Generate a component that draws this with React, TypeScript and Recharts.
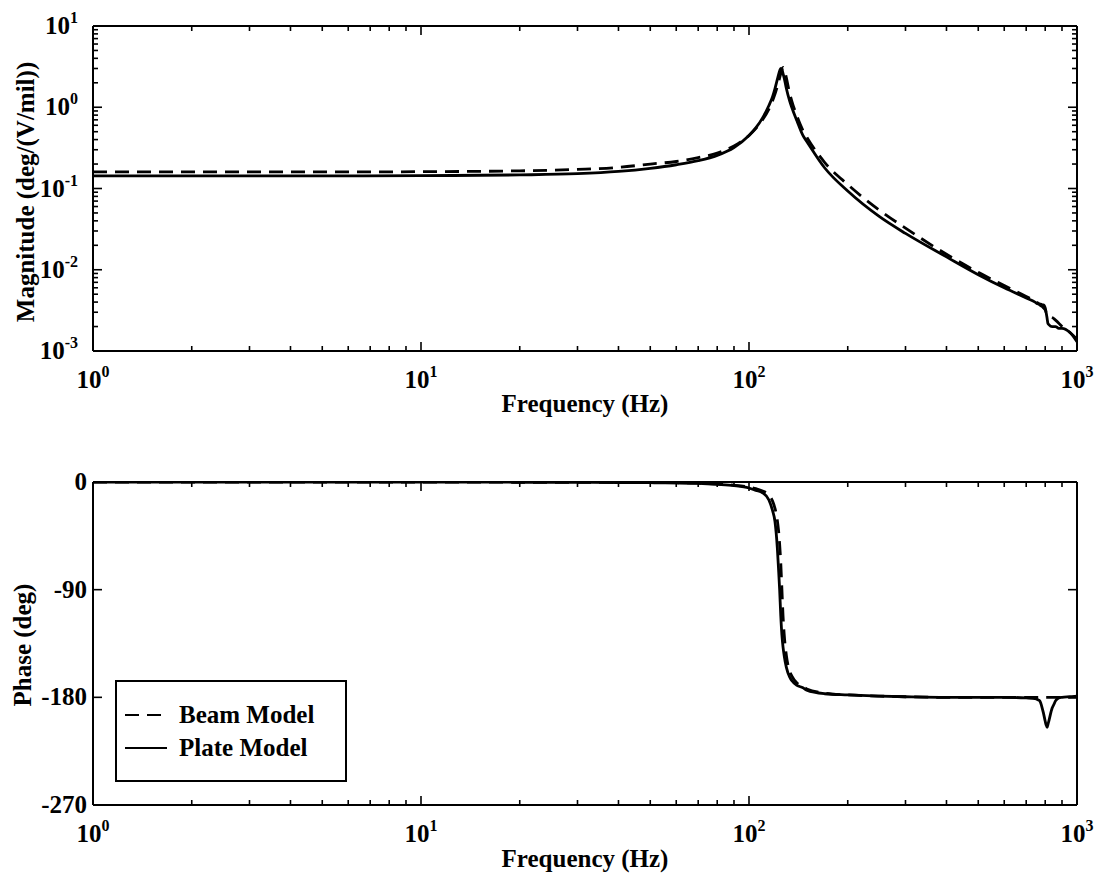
import { Legend, Line, LineChart, XAxis, YAxis } from "recharts";

const FONT = '"Liberation Serif", "Times New Roman", serif';

// frequency grid (Hz), shared by both series
const freq = [
  1, 2, 5, 10, 20, 30, 40, 50, 60, 70, 80, 90, 100, 105, 110, 115, 118, 120, 122,
  123, 124, 125, 126, 127, 128, 130, 133, 135, 140, 146, 150, 170, 200, 250, 300,
  400, 500, 600, 700, 745, 760, 770, 785, 790, 800, 805, 811, 815, 822, 840, 850,
  860, 880, 900, 950, 1000,
];

const beamMag = [
  0.16, 0.16, 0.16, 0.161, 0.165, 0.172, 0.182, 0.2, 0.215, 0.24, 0.272, 0.335,
  0.45, 0.55, 0.7, 0.95, 1.2, 1.45, 1.8, 2.0, 2.3, 2.6, 2.9, 3.1, 3.0, 2.3, 1.5,
  1.2, 0.78, 0.52, 0.43, 0.21, 0.112, 0.054, 0.0325, 0.0155, 0.0093, 0.0064,
  0.0047, 0.0041, 0.0039, 0.0037, 0.0035, 0.0034, 0.0032, 0.003, 0.0029, 0.0028,
  0.0027, 0.0026, 0.0025, 0.0024, 0.0022, 0.002, 0.0017, 0.0014,
];

const plateMag = [
  0.143, 0.143, 0.143, 0.144, 0.147, 0.152, 0.162, 0.177, 0.196, 0.22, 0.256,
  0.32, 0.45, 0.56, 0.74, 1.05, 1.35, 1.7, 2.2, 2.5, 2.8, 3.0, 2.9, 2.6, 2.3, 1.7,
  1.2, 1.0, 0.68, 0.45, 0.38, 0.18, 0.093, 0.045, 0.028, 0.0144, 0.0087, 0.006,
  0.0045, 0.004, 0.0038, 0.0038, 0.0037, 0.0037, 0.0034, 0.003, 0.0025, 0.0022,
  0.0021, 0.002, 0.002, 0.002, 0.0019, 0.0019, 0.0017, 0.0013,
];

const beamPhase = [
  0, 0, -0.1, -0.1, -0.2, -0.3, -0.4, -0.5, -0.7, -1, -1.6, -2.6, -4.2, -5.5,
  -7.5, -11, -16, -22, -32, -40, -52, -68, -90, -112, -127, -145, -158, -162,
  -168, -171, -173, -176.5, -178, -179, -179.5, -180, -180, -180, -180, -180,
  -180, -180, -180, -180, -180, -180, -180, -180, -180, -180, -180, -180, -180,
  -180, -180, -180,
];

const platePhase = [
  0, 0, -0.1, -0.1, -0.2, -0.3, -0.4, -0.6, -0.8, -1.2, -2, -3, -5, -7, -9, -15,
  -24, -33, -55, -72, -90, -112, -128, -138, -145, -155, -163, -166, -170, -172,
  -174, -177, -178, -179, -179.5, -180, -180, -180, -180.5, -181, -182, -183,
  -190, -193, -200, -203, -205, -203, -199, -189, -186, -183, -180.5, -180,
  -179.5, -179,
];

const freqTicks = [
  1, 2, 3, 4, 5, 6, 7, 8, 9, 10, 20, 30, 40, 50, 60, 70, 80, 90, 100, 200, 300,
  400, 500, 600, 700, 800, 900, 1000,
];
const magTicks = [
  0.001, 0.002, 0.003, 0.004, 0.005, 0.006, 0.007, 0.008, 0.009, 0.01, 0.02,
  0.03, 0.04, 0.05, 0.06, 0.07, 0.08, 0.09, 0.1, 0.2, 0.3, 0.4, 0.5, 0.6, 0.7,
  0.8, 0.9, 1, 2, 3, 4, 5, 6, 7, 8, 9, 10,
];
const phaseTicks = [-270, -180, -90, 0];

const seriesNames = ["Beam Model", "Plate Model"];
const beamDash = "14 8";

const data = freq.map((f, i) => ({
  f,
  beamMag: beamMag[i],
  plateMag: plateMag[i],
  beamPhase: beamPhase[i],
  platePhase: platePhase[i],
}));

type TickProps = { x?: number; y?: number; payload?: { value: number } };

const isDecade = (v: number) => {
  const l = Math.log10(v);
  return Math.abs(l - Math.round(l)) < 1e-6;
};

const axisStyle = { stroke: "#000", strokeWidth: 2 };
const labelStyle = { fontFamily: FONT, fontWeight: "bold" as const, fill: "#000" };

function FreqTickBottom({ x = 0, y = 0, payload }: TickProps) {
  const v = payload?.value ?? 1;
  const major = isDecade(v);
  return (
    <g>
      <line x1={x} x2={x} y1={y} y2={y - (major ? 9 : 5)} stroke="#000" strokeWidth={1.6} />
      {major && (
        <text x={x} y={y + 37} textAnchor="middle" fontSize={25} {...labelStyle}>
          10
          <tspan dy={-11} fontSize={16}>
            {Math.round(Math.log10(v))}
          </tspan>
        </text>
      )}
    </g>
  );
}

function FreqTickTop({ x = 0, y = 0, payload }: TickProps) {
  const major = isDecade(payload?.value ?? 1);
  return <line x1={x} x2={x} y1={y} y2={y + (major ? 9 : 5)} stroke="#000" strokeWidth={1.6} />;
}

function MagTickLeft({ x = 0, y = 0, payload }: TickProps) {
  const v = payload?.value ?? 1;
  const major = isDecade(v);
  return (
    <g>
      <line x1={x} x2={x + (major ? 9 : 5)} y1={y} y2={y} stroke="#000" strokeWidth={1.6} />
      {major && (
        <text x={x - 15} y={y + 8} textAnchor="end" fontSize={25} {...labelStyle}>
          10
          <tspan dy={-11} fontSize={16}>
            {Math.round(Math.log10(v))}
          </tspan>
        </text>
      )}
    </g>
  );
}

function MagTickRight({ x = 0, y = 0, payload }: TickProps) {
  const major = isDecade(payload?.value ?? 1);
  return <line x1={x} x2={x - (major ? 9 : 5)} y1={y} y2={y} stroke="#000" strokeWidth={1.6} />;
}

function PhaseTickLeft({ x = 0, y = 0, payload }: TickProps) {
  return (
    <g>
      <line x1={x} x2={x + 9} y1={y} y2={y} stroke="#000" strokeWidth={1.6} />
      <text x={x - 6} y={y + 8} textAnchor="end" fontSize={25} {...labelStyle}>
        {payload?.value}
      </text>
    </g>
  );
}

function PhaseTickRight({ x = 0, y = 0 }: TickProps) {
  return <line x1={x} x2={x - 9} y1={y} y2={y} stroke="#000" strokeWidth={1.6} />;
}

// axis title at a fixed spot (props named so recharts' label props don't override them)
function Title({ px, py, text, rotate }: { px: number; py: number; text: string; rotate?: boolean }) {
  return (
    <text
      x={px}
      y={py}
      textAnchor="middle"
      fontSize={25}
      transform={rotate ? `rotate(-90 ${px} ${py})` : undefined}
      {...labelStyle}
    >
      {text}
    </text>
  );
}

function ModelLegend() {
  return (
    <div style={{ width: 232, height: 102, border: "2px solid #000", background: "#fff", boxSizing: "border-box" }}>
      <svg width={228} height={98}>
        {seriesNames.map((name, i) => (
          <g key={name}>
            <line
              x1={8}
              x2={50}
              y1={33 + i * 33}
              y2={33 + i * 33}
              stroke="#000"
              strokeWidth={2}
              strokeDasharray={i === 0 ? beamDash : undefined}
            />
            <text x={62} y={41 + i * 33} fontSize={25} {...labelStyle}>
              {name}
            </text>
          </g>
        ))}
      </svg>
    </div>
  );
}

const xCommon = {
  dataKey: "f",
  type: "number" as const,
  scale: "log" as const,
  domain: [1, 1000],
  ticks: freqTicks,
  interval: 0,
  tickSize: 0,
  tickMargin: 0,
  tickLine: false,
  axisLine: axisStyle,
  allowDataOverflow: true,
};

export default function App() {
  return (
    <div style={{ position: "absolute", left: 0, top: 0, width: 1098, height: 880, background: "#fff" }}>
      <div style={{ position: "absolute", left: 0, top: 0 }}>
        <LineChart width={1098} height={440} data={data} margin={{ top: 20, right: 15, bottom: 28, left: 33 }}>
          <XAxis
            xAxisId="b"
            {...xCommon}
            height={61}
            tick={(p: TickProps) => <FreqTickBottom {...p} />}
            label={<Title px={585} py={412} text="Frequency (Hz)" />}
          />
          <XAxis xAxisId="t" orientation="top" {...xCommon} height={6} tick={(p: TickProps) => <FreqTickTop {...p} />} />
          <YAxis
            yAxisId="l"
            type="number"
            scale="log"
            domain={[0.001, 10]}
            ticks={magTicks}
            interval={0}
            tickSize={0}
            tickMargin={0}
            tickLine={false}
            axisLine={axisStyle}
            allowDataOverflow
            width={60}
            tick={(p: TickProps) => <MagTickLeft {...p} />}
            label={<Title px={34} py={192} text="Magnitude (deg/(V/mil))" rotate />}
          />
          <YAxis
            yAxisId="r"
            orientation="right"
            type="number"
            scale="log"
            domain={[0.001, 10]}
            ticks={magTicks}
            interval={0}
            tickSize={0}
            tickMargin={0}
            tickLine={false}
            axisLine={axisStyle}
            allowDataOverflow
            width={6}
            tick={(p: TickProps) => <MagTickRight {...p} />}
          />
          <Line
            xAxisId="b"
            yAxisId="l"
            dataKey="beamMag"
            name={seriesNames[0]}
            type="monotone"
            stroke="#000"
            strokeWidth={2.8}
            strokeDasharray={beamDash}
            dot={false}
            isAnimationActive={false}
          />
          <Line
            xAxisId="b"
            yAxisId="l"
            dataKey="plateMag"
            name={seriesNames[1]}
            type="monotone"
            stroke="#000"
            strokeWidth={2.8}
            dot={false}
            isAnimationActive={false}
          />
          <Line
            xAxisId="t"
            yAxisId="r"
            dataKey="plateMag"
            stroke="none"
            dot={false}
            activeDot={false}
            legendType="none"
            isAnimationActive={false}
          />
        </LineChart>
      </div>
      <div style={{ position: "absolute", left: 0, top: 440 }}>
        <LineChart width={1098} height={440} data={data} margin={{ top: 36, right: 15, bottom: 13, left: 33 }}>
          <XAxis
            xAxisId="b"
            {...xCommon}
            height={62}
            tick={(p: TickProps) => <FreqTickBottom {...p} />}
            label={<Title px={585} py={427} text="Frequency (Hz)" />}
          />
          <XAxis xAxisId="t" orientation="top" {...xCommon} height={6} tick={(p: TickProps) => <FreqTickTop {...p} />} />
          <YAxis
            yAxisId="l"
            type="number"
            domain={[-270, 0]}
            ticks={phaseTicks}
            interval={0}
            tickSize={0}
            tickMargin={0}
            tickLine={false}
            axisLine={axisStyle}
            allowDataOverflow
            width={60}
            tick={(p: TickProps) => <PhaseTickLeft {...p} />}
            label={<Title px={31} py={205} text="Phase (deg)" rotate />}
          />
          <YAxis
            yAxisId="r"
            orientation="right"
            type="number"
            domain={[-270, 0]}
            ticks={phaseTicks}
            interval={0}
            tickSize={0}
            tickMargin={0}
            tickLine={false}
            axisLine={axisStyle}
            allowDataOverflow
            width={6}
            tick={(p: TickProps) => <PhaseTickRight {...p} />}
          />
          <Line
            xAxisId="b"
            yAxisId="l"
            dataKey="beamPhase"
            name={seriesNames[0]}
            type="monotone"
            stroke="#000"
            strokeWidth={2.8}
            strokeDasharray={beamDash}
            dot={false}
            isAnimationActive={false}
          />
          <Line
            xAxisId="b"
            yAxisId="l"
            dataKey="platePhase"
            name={seriesNames[1]}
            type="monotone"
            stroke="#000"
            strokeWidth={2.8}
            dot={false}
            isAnimationActive={false}
          />
          <Line
            xAxisId="t"
            yAxisId="r"
            dataKey="platePhase"
            stroke="none"
            dot={false}
            activeDot={false}
            legendType="none"
            isAnimationActive={false}
          />
          <Legend
            layout="vertical"
            align="center"
            verticalAlign="middle"
            wrapperStyle={{ left: 115, top: 240, width: 232, height: 102 }}
            content={() => <ModelLegend />}
          />
        </LineChart>
      </div>
    </div>
  );
}
